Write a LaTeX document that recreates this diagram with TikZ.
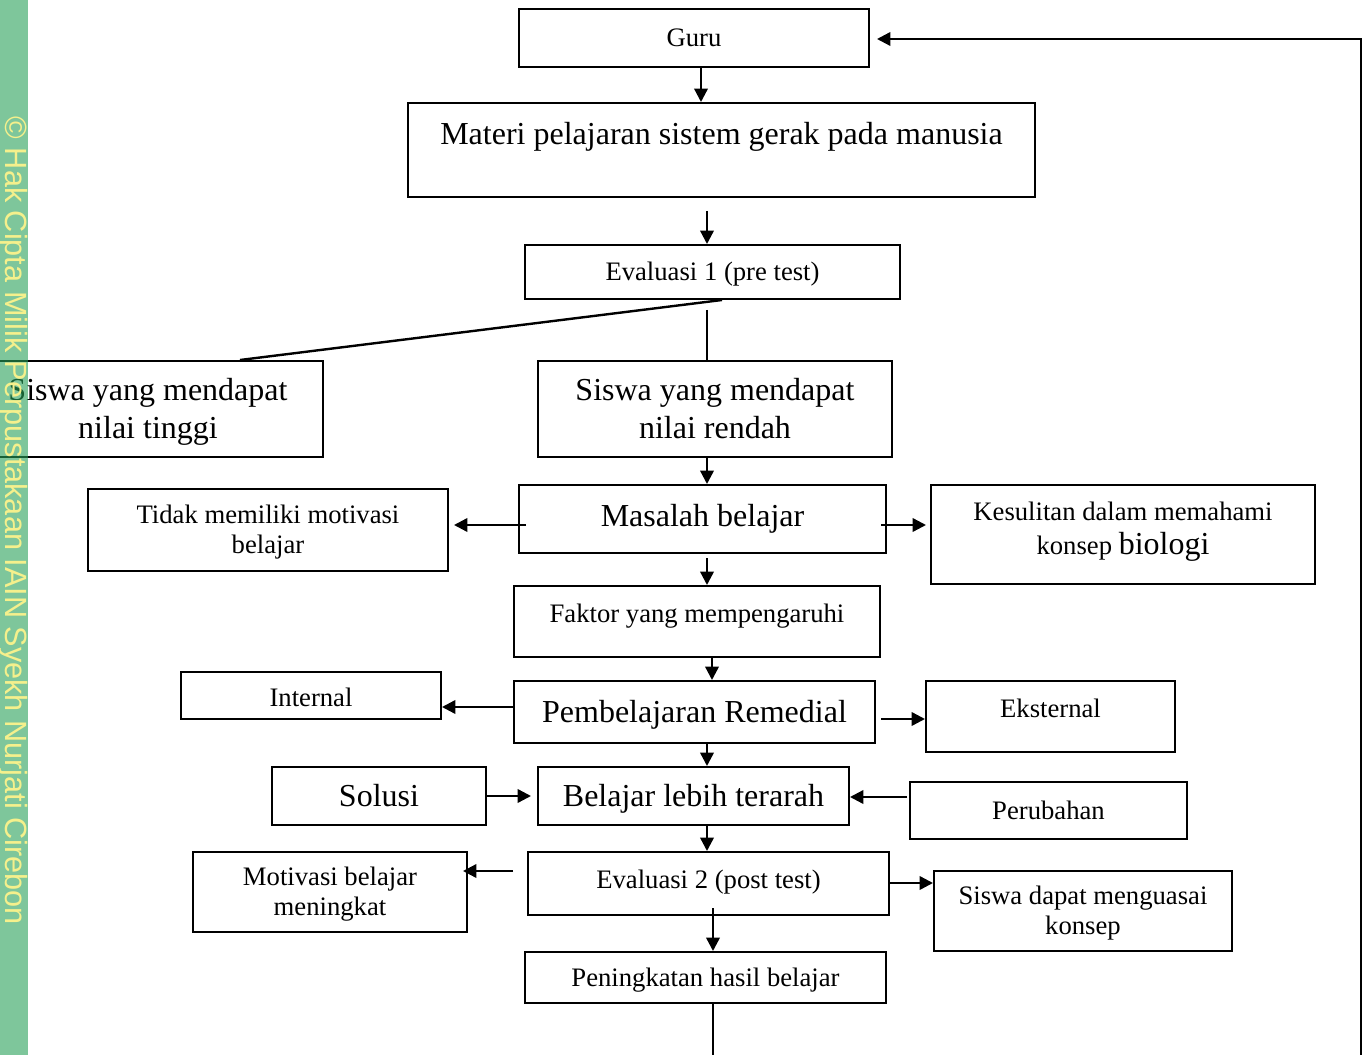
\documentclass[tikz,border=0pt]{standalone}
\usepackage{fontspec}
\setmainfont{Liberation Serif}
\newfontfamily\wmfont{Liberation Sans}
\usetikzlibrary{arrows.meta,calc}
\definecolor{wmgreen}{RGB}{40,160,88}
\definecolor{wmyellow}{RGB}{245,240,140}
\newcommand{\smallfnt}{\fontsize{20}{22.5}\selectfont}
\newcommand{\bigfnt}{\fontsize{24}{28.5}\selectfont}
\tikzset{every picture/.style={line width=0.75pt}}
\tikzset{
  box/.style={draw, line width=1.5pt, inner sep=0pt, align=center},
  wh/.style 2 args={minimum width=#1*0.75pt, minimum height=#2*0.75pt},
  smallbox/.style={box, font=\smallfnt, text height=13.2pt, text depth=0pt},
  bigbox/.style={box, font=\bigfnt, text height=15.8pt, text depth=0pt},
  twosmall/.style={smallbox, text height=35.7pt},
  twobig/.style={bigbox, text height=44.3pt},
  link/.style={line width=1.8pt},
  arr/.style={link, -{Triangle[length=10pt,width=10pt]}},
}

\begin{document}
\begin{tikzpicture}[x=0.75pt,y=0.75pt,yscale=-1,xscale=1]
\useasboundingbox (0,0) rectangle (1367,1055);
\clip (0,0) rectangle (1367,1055);

% Boxes
\node[smallbox, wh={350}{58}] (guru) at (694,38) {Guru};
\node[bigbox, wh={627}{94}, text depth=24pt] (materi) at (721.5,150) {Materi pelajaran sistem gerak pada manusia};
\node[smallbox, wh={375}{54}] (eva1) at (712.5,272) {Evaluasi 1 (pre test)};
\node[twobig, wh={350}{96}] (tinggi) at (148,409) {Siswa yang mendapat\\nilai tinggi};
\node[twobig, wh={354}{96}] (rendah) at (715,409) {Siswa yang mendapat\\nilai rendah};
\node[bigbox, wh={367}{68}, text depth=4.5pt] (masalah) at (702.5,519) {Masalah belajar};
\node[twosmall, wh={360}{82}] (tidak) at (268,530) {Tidak memiliki motivasi\\belajar};
\node[smallbox, wh={384}{99}, text height=38.7pt, text depth=8.3pt] (sulit) at (1123,534.5) {Kesulitan dalam memahami\\[3pt]konsep {\bigfnt biologi}};
\node[smallbox, wh={366}{71}, text depth=11.2pt] (faktor) at (697,621.5) {Faktor yang mempengaruhi};
\node[smallbox, wh={260}{47}, text height=17pt] (internal) at (311,695.5) {Internal};
\node[bigbox, wh={361}{62}] (remedial) at (694.5,712) {Pembelajaran Remedial};
\node[smallbox, wh={249}{71}, text depth=11.2pt] (eksternal) at (1050.5,716.5) {Eksternal};
\node[bigbox, wh={214}{58}] (solusi) at (379,796) {Solusi};
\node[bigbox, wh={311}{58}] (terarah) at (693.5,796) {Belajar lebih terarah};
\node[smallbox, wh={277}{57}] (perubahan) at (1048.5,810.5) {Perubahan};
\node[twosmall, wh={274}{80}] (motivasi) at (330,892) {Motivasi belajar\\meningkat};
\node[smallbox, wh={361}{63}, text depth=5.2pt] (eva2) at (708.5,883.5) {Evaluasi 2 (post test)};
\node[twosmall, wh={298}{80}] (kuasai) at (1083,911) {Siswa dapat menguasai\\konsep};
\node[smallbox, wh={361}{51}] (hasil) at (705.5,977.5) {Peningkatan hasil belajar};

% Connectors
\draw[arr] (guru.south -| 701,0) -- (materi.north -| 701,0);
\draw[arr] ($(materi.south -| 707,0)+(0,13)$) -- (eva1.north -| 707,0);
\draw[link] (eva1.south -| 722,0) -- (tinggi.north -| 240,0);
\draw[link] ($(eva1.south -| 707,0)+(0,10)$) -- (rendah.north -| 707,0);
\draw[arr] (rendah.south -| 707,0) -- (masalah.north -| 707,0);
\draw[arr] ($(masalah.west |- 0,525)+(8,0)$) -- ($(tidak.east |- 0,525)+(5,0)$);
\draw[arr] ($(masalah.east |- 0,525)+(-6,0)$) -- ($(sulit.west |- 0,525)+(-4,0)$);
\draw[arr] ($(masalah.south -| 707,0)+(0,4)$) -- (faktor.north -| 707,0);
\draw[arr] (faktor.south -| 712,0) -- (remedial.north -| 712,0);
\draw[arr] (remedial.west |- 0,707) -- (internal.east |- 0,707);
\draw[arr] ($(remedial.east |- 0,719)+(5,0)$) -- (eksternal.west |- 0,719);
\draw[arr] (remedial.south -| 707,0) -- (terarah.north -| 707,0);
\draw[arr] (solusi.east) -- ($(terarah.west)+(-6,0)$);
\draw[arr] ($(perubahan.west |- 0,797)+(-2,0)$) -- (terarah.east |- 0,797);
\draw[arr] (terarah.south -| 707,0) -- (eva2.north -| 707,0);
\draw[arr] ($(eva2.west |- 0,871)+(-14,0)$) -- ($(motivasi.east |- 0,871)+(-5,0)$);
\draw[arr] (eva2.east |- 0,883) -- (kuasai.west |- 0,883);
\draw[arr] ($(eva2.south -| 713,0)+(0,-8)$) -- (hasil.north -| 713,0);
% feedback loop back to Guru
\draw[arr] (hasil.south -| 713,0) -- (713,1080) -- (1361,1080) -- (1361,39) -- ($(guru.east |- 0,39)+(7,0)$);

% Watermark strip
\fill[wmgreen, fill opacity=0.6] (0,0) rectangle (28,1055);
\node[rotate=-90, text=wmyellow, inner sep=0pt, font=\wmfont\fontsize{23}{23}\selectfont] (wm) at (13,521) {© Hak Cipta Milik Perpustakaan IAIN Syekh Nurjati Cirebon};

\end{tikzpicture}
\end{document}
